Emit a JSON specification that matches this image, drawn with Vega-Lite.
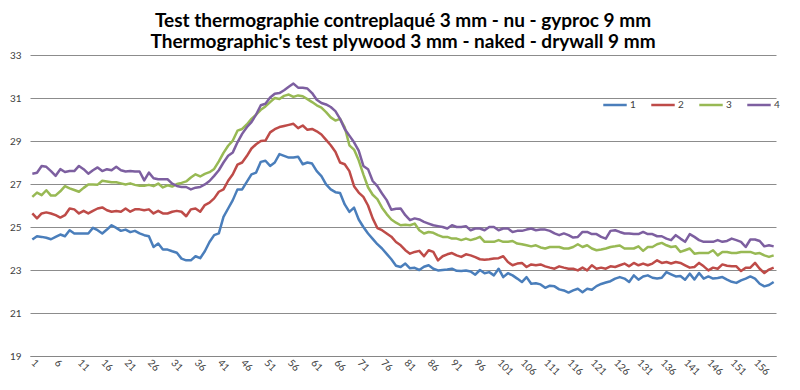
{
  "$schema": "https://vega.github.io/schema/vega-lite/v6.json",
  "width": 746,
  "height": 301,
  "autosize": {"type": "none"},
  "padding": {"left": 30, "top": 55, "right": 24, "bottom": 34},
  "background": "white",
  "title": {
    "text": ["Test thermographie contreplaqué 3 mm - nu - gyproc 9 mm", "Thermographic's test plywood 3 mm - naked - drywall 9 mm"],
    "font": "Lato", "fontSize": 19, "fontWeight": "bold", "color": "#000000",
    "anchor": "middle", "offset": -2, "lineHeight": 21
  },
  "config": {
    "view": {"stroke": null},
    "axis": {"labelFont": "Lato", "labelFontSize": 10, "labelColor": "#404040"}
  },
  "data": {
    "values": [
      {"n":1,"1":24.42,"2":25.63,"3":26.4,"4":27.48},
      {"n":2,"1":24.57,"2":25.4,"3":26.6,"4":27.52},
      {"n":3,"1":24.54,"2":25.63,"3":26.48,"4":27.84},
      {"n":4,"1":24.5,"2":25.68,"3":26.71,"4":27.8},
      {"n":5,"1":24.43,"2":25.63,"3":26.46,"4":27.6},
      {"n":6,"1":24.54,"2":25.55,"3":26.47,"4":27.38},
      {"n":7,"1":24.65,"2":25.44,"3":26.66,"4":27.69},
      {"n":8,"1":24.57,"2":25.55,"3":26.9,"4":27.56},
      {"n":9,"1":24.85,"2":25.86,"3":26.8,"4":27.6},
      {"n":10,"1":24.7,"2":25.82,"3":26.72,"4":27.6},
      {"n":11,"1":24.7,"2":25.63,"3":26.64,"4":27.84},
      {"n":12,"1":24.7,"2":25.75,"3":26.82,"4":27.69},
      {"n":13,"1":24.7,"2":25.63,"3":26.98,"4":27.48},
      {"n":14,"1":24.96,"2":25.75,"3":26.98,"4":27.64},
      {"n":15,"1":24.85,"2":25.86,"3":26.97,"4":27.77},
      {"n":16,"1":24.7,"2":25.91,"3":27.15,"4":27.6},
      {"n":17,"1":24.88,"2":25.78,"3":27.12,"4":27.69},
      {"n":18,"1":25.08,"2":25.71,"3":27.08,"4":27.64},
      {"n":19,"1":24.96,"2":25.74,"3":27.08,"4":27.8},
      {"n":20,"1":24.82,"2":25.71,"3":27.03,"4":27.64},
      {"n":21,"1":24.88,"2":25.86,"3":26.98,"4":27.58},
      {"n":22,"1":24.76,"2":25.71,"3":27.03,"4":27.6},
      {"n":23,"1":24.82,"2":25.82,"3":26.96,"4":27.58},
      {"n":24,"1":24.7,"2":25.82,"3":26.92,"4":27.58},
      {"n":25,"1":24.62,"2":25.78,"3":26.92,"4":27.17},
      {"n":26,"1":24.57,"2":25.82,"3":26.96,"4":27.53},
      {"n":27,"1":24.07,"2":25.63,"3":26.9,"4":27.27},
      {"n":28,"1":24.23,"2":25.75,"3":27.02,"4":27.22},
      {"n":29,"1":23.95,"2":25.63,"3":26.84,"4":27.22},
      {"n":30,"1":23.95,"2":25.63,"3":26.94,"4":27.22},
      {"n":31,"1":23.87,"2":25.71,"3":26.88,"4":27.02},
      {"n":32,"1":23.8,"2":25.75,"3":27.0,"4":26.91},
      {"n":33,"1":23.53,"2":25.71,"3":27.05,"4":26.86},
      {"n":34,"1":23.45,"2":25.5,"3":27.12,"4":26.86},
      {"n":35,"1":23.45,"2":25.82,"3":27.3,"4":26.75},
      {"n":36,"1":23.64,"2":25.86,"3":27.45,"4":26.83},
      {"n":37,"1":23.55,"2":25.71,"3":27.35,"4":26.86},
      {"n":38,"1":23.87,"2":26.02,"3":27.47,"4":26.98},
      {"n":39,"1":24.3,"2":26.13,"3":27.55,"4":27.14},
      {"n":40,"1":24.62,"2":26.33,"3":27.7,"4":27.38},
      {"n":41,"1":24.7,"2":26.64,"3":28.05,"4":27.64},
      {"n":42,"1":25.47,"2":26.75,"3":28.45,"4":28.0},
      {"n":43,"1":25.86,"2":27.15,"3":28.78,"4":28.31},
      {"n":44,"1":26.25,"2":27.45,"3":29.02,"4":28.47},
      {"n":45,"1":26.75,"2":27.9,"3":29.48,"4":28.94},
      {"n":46,"1":26.75,"2":28.0,"3":29.56,"4":29.33},
      {"n":47,"1":27.1,"2":28.3,"3":29.77,"4":29.64},
      {"n":48,"1":27.45,"2":28.65,"3":30.03,"4":29.88},
      {"n":49,"1":27.53,"2":28.85,"3":30.23,"4":30.23},
      {"n":50,"1":28.03,"2":29.0,"3":30.45,"4":30.66},
      {"n":51,"1":28.08,"2":29.02,"3":30.61,"4":30.73},
      {"n":52,"1":27.84,"2":29.4,"3":30.81,"4":31.02},
      {"n":53,"1":28.0,"2":29.55,"3":31.0,"4":31.2},
      {"n":54,"1":28.39,"2":29.65,"3":30.95,"4":31.23},
      {"n":55,"1":28.31,"2":29.7,"3":31.1,"4":31.36},
      {"n":56,"1":28.23,"2":29.75,"3":31.16,"4":31.52},
      {"n":57,"1":28.23,"2":29.8,"3":31.05,"4":31.67},
      {"n":58,"1":28.27,"2":29.6,"3":31.12,"4":31.48},
      {"n":59,"1":27.92,"2":29.72,"3":31.08,"4":31.48},
      {"n":60,"1":28.0,"2":29.52,"3":30.95,"4":31.44},
      {"n":61,"1":27.95,"2":29.56,"3":30.81,"4":31.23},
      {"n":62,"1":27.6,"2":29.45,"3":30.66,"4":30.92},
      {"n":63,"1":27.37,"2":29.3,"3":30.55,"4":30.77},
      {"n":64,"1":26.98,"2":29.05,"3":30.34,"4":30.7},
      {"n":65,"1":26.75,"2":28.8,"3":30.1,"4":30.58},
      {"n":66,"1":26.62,"2":28.5,"3":29.95,"4":30.39},
      {"n":67,"1":26.58,"2":28.0,"3":30.03,"4":30.03},
      {"n":68,"1":26.05,"2":27.92,"3":29.64,"4":29.56},
      {"n":69,"1":25.7,"2":27.6,"3":28.8,"4":29.25},
      {"n":70,"1":25.9,"2":26.9,"3":28.6,"4":28.94},
      {"n":71,"1":25.35,"2":26.6,"3":28.1,"4":28.55},
      {"n":72,"1":25.0,"2":26.4,"3":27.45,"4":27.84},
      {"n":73,"1":24.7,"2":26.0,"3":26.85,"4":27.69},
      {"n":74,"1":24.45,"2":25.4,"3":26.5,"4":27.14},
      {"n":75,"1":24.2,"2":24.95,"3":26.3,"4":26.9},
      {"n":76,"1":24.0,"2":24.85,"3":25.9,"4":26.56},
      {"n":77,"1":23.75,"2":24.7,"3":25.6,"4":26.25},
      {"n":78,"1":23.5,"2":24.55,"3":25.35,"4":25.8},
      {"n":79,"1":23.2,"2":24.3,"3":25.2,"4":25.85},
      {"n":80,"1":23.14,"2":24.15,"3":25.08,"4":25.86},
      {"n":81,"1":23.3,"2":23.92,"3":25.1,"4":25.55},
      {"n":82,"1":23.08,"2":23.76,"3":25.08,"4":25.32},
      {"n":83,"1":23.1,"2":23.84,"3":25.16,"4":25.4},
      {"n":84,"1":23.0,"2":23.89,"3":24.85,"4":25.35},
      {"n":85,"1":23.15,"2":23.64,"3":24.7,"4":25.24},
      {"n":86,"1":23.22,"2":23.92,"3":24.77,"4":25.16},
      {"n":87,"1":23.06,"2":23.84,"3":24.73,"4":25.08},
      {"n":88,"1":22.98,"2":23.45,"3":24.62,"4":25.04},
      {"n":89,"1":23.0,"2":23.64,"3":24.54,"4":25.0},
      {"n":90,"1":23.02,"2":23.73,"3":24.54,"4":24.93},
      {"n":91,"1":23.06,"2":23.79,"3":24.46,"4":25.08},
      {"n":92,"1":22.96,"2":23.68,"3":24.46,"4":25.0},
      {"n":93,"1":22.95,"2":23.61,"3":24.39,"4":25.0},
      {"n":94,"1":22.98,"2":23.73,"3":24.46,"4":25.04},
      {"n":95,"1":22.93,"2":23.68,"3":24.39,"4":24.85},
      {"n":96,"1":22.78,"2":23.6,"3":24.45,"4":24.93},
      {"n":97,"1":23.0,"2":23.5,"3":24.54,"4":24.93},
      {"n":98,"1":22.85,"2":23.48,"3":24.31,"4":24.85},
      {"n":99,"1":22.9,"2":23.5,"3":24.31,"4":25.0},
      {"n":100,"1":22.75,"2":23.53,"3":24.31,"4":25.0},
      {"n":101,"1":23.06,"2":23.55,"3":24.39,"4":24.85},
      {"n":102,"1":22.67,"2":23.64,"3":24.31,"4":24.93},
      {"n":103,"1":22.85,"2":23.37,"3":24.31,"4":24.93},
      {"n":104,"1":22.75,"2":23.22,"3":24.35,"4":24.77},
      {"n":105,"1":22.6,"2":23.3,"3":24.23,"4":24.82},
      {"n":106,"1":22.44,"2":23.33,"3":24.2,"4":24.82},
      {"n":107,"1":22.67,"2":23.14,"3":24.15,"4":24.88},
      {"n":108,"1":22.36,"2":23.26,"3":24.1,"4":24.93},
      {"n":109,"1":22.38,"2":23.22,"3":24.15,"4":24.85},
      {"n":110,"1":22.33,"2":23.26,"3":24.05,"4":24.88},
      {"n":111,"1":22.17,"2":23.17,"3":24.0,"4":24.88},
      {"n":112,"1":22.27,"2":23.11,"3":24.07,"4":24.82},
      {"n":113,"1":22.24,"2":23.06,"3":24.07,"4":24.7},
      {"n":114,"1":22.1,"2":23.17,"3":24.07,"4":24.62},
      {"n":115,"1":22.05,"2":23.11,"3":24.0,"4":24.7},
      {"n":116,"1":21.95,"2":23.06,"3":24.0,"4":24.62},
      {"n":117,"1":22.05,"2":23.06,"3":24.07,"4":24.51},
      {"n":118,"1":22.13,"2":22.98,"3":24.2,"4":24.54},
      {"n":119,"1":21.97,"2":23.11,"3":24.07,"4":24.77},
      {"n":120,"1":22.13,"2":22.98,"3":24.15,"4":24.77},
      {"n":121,"1":22.08,"2":23.22,"3":24.0,"4":24.67},
      {"n":122,"1":22.25,"2":23.06,"3":23.92,"4":24.67},
      {"n":123,"1":22.35,"2":23.11,"3":23.95,"4":24.54},
      {"n":124,"1":22.42,"2":23.06,"3":24.0,"4":24.46},
      {"n":125,"1":22.48,"2":23.17,"3":24.07,"4":24.82},
      {"n":126,"1":22.6,"2":23.14,"3":24.1,"4":24.85},
      {"n":127,"1":22.67,"2":23.22,"3":24.14,"4":24.77},
      {"n":128,"1":22.6,"2":23.3,"3":24.0,"4":24.7},
      {"n":129,"1":22.44,"2":23.17,"3":24.0,"4":24.7},
      {"n":130,"1":22.75,"2":23.33,"3":24.0,"4":24.67},
      {"n":131,"1":22.55,"2":23.22,"3":24.1,"4":24.67},
      {"n":132,"1":22.7,"2":23.3,"3":23.89,"4":24.77},
      {"n":133,"1":22.75,"2":23.22,"3":24.07,"4":24.67},
      {"n":134,"1":22.64,"2":23.3,"3":24.07,"4":24.67},
      {"n":135,"1":22.6,"2":23.45,"3":24.2,"4":24.57},
      {"n":136,"1":22.64,"2":23.33,"3":24.26,"4":24.57},
      {"n":137,"1":22.9,"2":23.37,"3":24.15,"4":24.46},
      {"n":138,"1":22.8,"2":23.3,"3":24.07,"4":24.39},
      {"n":139,"1":22.7,"2":23.37,"3":24.1,"4":24.62},
      {"n":140,"1":22.72,"2":23.33,"3":23.84,"4":24.46},
      {"n":141,"1":22.55,"2":23.22,"3":23.92,"4":24.31},
      {"n":142,"1":22.83,"2":23.11,"3":24.0,"4":24.67},
      {"n":143,"1":22.56,"2":23.14,"3":23.76,"4":24.54},
      {"n":144,"1":22.86,"2":23.33,"3":23.79,"4":24.39},
      {"n":145,"1":22.6,"2":23.17,"3":23.79,"4":24.31},
      {"n":146,"1":22.7,"2":22.98,"3":23.79,"4":24.31},
      {"n":147,"1":22.6,"2":23.11,"3":23.92,"4":24.31},
      {"n":148,"1":22.63,"2":23.06,"3":23.68,"4":24.39},
      {"n":149,"1":22.67,"2":23.26,"3":23.84,"4":24.31},
      {"n":150,"1":22.55,"2":23.2,"3":23.84,"4":24.35},
      {"n":151,"1":22.45,"2":23.17,"3":23.79,"4":24.46},
      {"n":152,"1":22.4,"2":23.17,"3":23.79,"4":24.39},
      {"n":153,"1":22.52,"2":22.95,"3":23.84,"4":24.31},
      {"n":154,"1":22.6,"2":23.11,"3":23.84,"4":24.07},
      {"n":155,"1":22.7,"2":23.11,"3":23.84,"4":24.42},
      {"n":156,"1":22.6,"2":23.33,"3":23.76,"4":24.42},
      {"n":157,"1":22.36,"2":23.06,"3":23.79,"4":24.35},
      {"n":158,"1":22.24,"2":22.86,"3":23.68,"4":24.1},
      {"n":159,"1":22.3,"2":23.02,"3":23.61,"4":24.15},
      {"n":160,"1":22.44,"2":23.11,"3":23.68,"4":24.1}
    ]
  },
  "transform": [{"fold": ["1", "2", "3", "4"], "as": ["series", "v"]}],
  "mark": {"type": "line", "strokeWidth": 2.5, "strokeJoin": "round"},
  "encoding": {
    "x": {
      "field": "n", "type": "quantitative",
      "scale": {"domain": [0.5, 160.5], "nice": false, "zero": false},
      "axis": {
        "title": null, "grid": false, "ticks": false,
        "values": [1,6,11,16,21,26,31,36,41,46,51,56,61,66,71,76,81,86,91,96,101,106,111,116,121,126,131,136,141,146,151,156],
        "labelAngle": 45, "labelAlign": "left", "labelBaseline": "middle", "labelPadding": 5,
        "domain": true, "domainColor": "#868686", "labelOverlap": false, "labelFlush": false
      }
    },
    "y": {
      "field": "v", "type": "quantitative",
      "scale": {"domain": [19, 33], "nice": false, "zero": false},
      "axis": {
        "title": null, "values": [19,21,23,25,27,29,31,33], "ticks": false, "domain": false,
        "grid": true, "gridColor": "#8c8c8c", "gridWidth": 1, "labelPadding": 9
      }
    },
    "color": {
      "field": "series", "type": "nominal",
      "scale": {"domain": ["1", "2", "3", "4"], "range": ["#4a7ebb", "#be4b48", "#98b954", "#7d5fa0"]},
      "legend": {
        "title": null, "orient": "none", "legendX": 572, "legendY": 37, "direction": "horizontal",
        "symbolType": "stroke", "symbolSize": 550, "symbolStrokeWidth": 2.5,
        "labelFont": "Lato", "labelFontSize": 10, "labelColor": "#404040",
        "labelOffset": 2, "columnPadding": 10
      }
    }
  }
}
